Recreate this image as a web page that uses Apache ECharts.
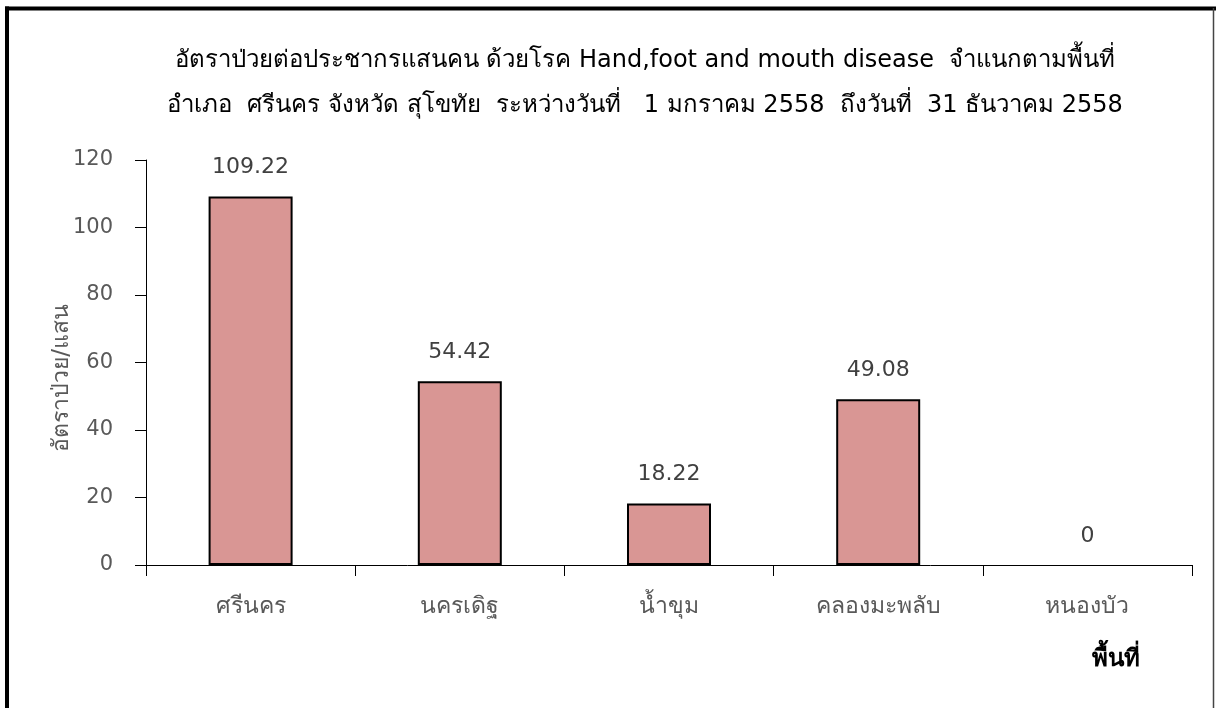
<!DOCTYPE html>
<html>
<head>
<meta charset="utf-8">
<style>
  html, body { margin: 0; padding: 0; background: #ffffff; }
  #chart { width: 1216px; height: 708px; }
</style>
<script src="https://cdn.jsdelivr.net/npm/echarts@6/dist/echarts.min.js"></script>
</head>
<body>
<div id="chart"></div>
<script>
// Sub-district names (พื้นที่) and disease rate per 100,000 population
const categories = ['ศรีนคร', 'นครเดิฐ', 'น้ำขุม', 'คลองมะพลับ', 'หนองบัว'];
const rates = [109.22, 54.42, 18.22, 49.08, 0];
const yTicks = [0, 20, 40, 60, 80, 100, 120];

const titleLines = [
  'อัตราป่วยต่อประชากรแสนคน ด้วยโรค Hand,foot and mouth disease  จำแนกตามพื้นที่',
  'อำเภอ  ศรีนคร จังหวัด สุโขทัย  ระหว่างวันที่   1 มกราคม 2558  ถึงวันที่  31 ธันวาคม 2558'
];
const yAxisName = 'อัตราป่วย/แสน';
const xAxisName = 'พื้นที่';

const FONT = "Tahoma, 'DejaVu Sans', 'Noto Sans', sans-serif";
const GRAY = '#595959';

const chart = echarts.init(document.getElementById('chart'), null, { renderer: 'canvas' });

// a zero-height bar gets no outline, so nothing is drawn over the axis
const barData = rates.map(v => (v === 0
  ? { value: v, itemStyle: { borderWidth: 0 } }
  : v));

chart.setOption({
  animation: false,
  backgroundColor: '#ffffff',
  textStyle: { fontFamily: FONT },
  title: {
    text: titleLines.join('\n'),
    left: 640,
    top: 33,
    textAlign: 'center',
    textStyle: {
      fontFamily: FONT,
      fontSize: 24,
      fontWeight: 'normal',
      color: '#000000',
      lineHeight: 45
    }
  },
  graphic: [
    // outer frame: heavy top and left edges, thin right edge
    {
      type: 'line',
      silent: true,
      shape: { x1: 5, y1: 8.5, x2: 1216, y2: 8.5 },
      style: { stroke: '#000000', lineWidth: 4 }
    },
    {
      type: 'line',
      silent: true,
      shape: { x1: 7, y1: 6.5, x2: 7, y2: 708 },
      style: { stroke: '#000000', lineWidth: 4 }
    },
    {
      type: 'line',
      silent: true,
      shape: { x1: 1213.5, y1: 8, x2: 1213.5, y2: 708 },
      style: { stroke: '#444444', lineWidth: 1.5 }
    },
    {
      type: 'text',
      x: 62,
      y: 378,
      rotation: Math.PI / 2,
      style: {
        text: yAxisName,
        fill: GRAY,
        font: '23px ' + FONT,
        align: 'center',
        verticalAlign: 'middle'
      }
    }
  ],
  grid: {
    left: 146,
    right: 24,
    top: 160,
    bottom: 143,
    containLabel: false
  },
  xAxis: {
    type: 'category',
    data: categories,
    name: xAxisName,
    nameLocation: 'end',
    nameGap: 0,
    nameTextStyle: {
      fontFamily: FONT,
      fontSize: 24,
      fontWeight: 'bold',
      color: '#000000',
      align: 'right',
      verticalAlign: 'top',
      padding: [83, 52, 0, 0]
    },
    axisLine: { show: true, lineStyle: { color: '#000000', width: 1 } },
    axisTick: {
      show: true,
      alignWithLabel: false,
      length: 11,
      lineStyle: { color: '#000000', width: 1 }
    },
    axisLabel: {
      color: GRAY,
      fontFamily: FONT,
      fontSize: 23,
      margin: 31
    },
    splitLine: { show: false }
  },
  yAxis: {
    type: 'value',
    min: yTicks[0],
    max: yTicks[yTicks.length - 1],
    interval: yTicks[1] - yTicks[0],
    axisLine: { show: true, lineStyle: { color: '#000000', width: 1 } },
    axisTick: { show: true, length: 11, lineStyle: { color: '#000000', width: 1 } },
    axisLabel: {
      color: GRAY,
      fontFamily: FONT,
      fontSize: 21,
      margin: 33
    },
    splitLine: { show: false }
  },
  series: [
    {
      type: 'bar',
      data: barData,
      barWidth: 84,
      itemStyle: {
        color: '#d99694',
        borderColor: '#000000',
        borderWidth: 2
      },
      label: {
        show: true,
        position: 'top',
        distance: 18,
        color: '#404040',
        fontFamily: FONT,
        fontSize: 22,
        formatter: p => String(p.value)
      }
    }
  ]
});
</script>
</body>
</html>
